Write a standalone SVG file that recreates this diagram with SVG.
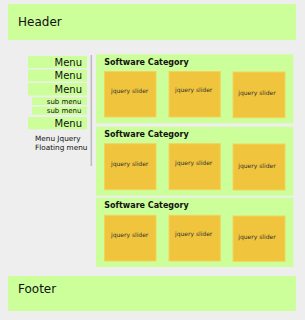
<svg xmlns="http://www.w3.org/2000/svg" width="305" height="320" viewBox="0 0 305 320">
<style>
.g{fill:#ccff99}
.s{fill:#f0c43c;stroke:#f5d35a;stroke-width:1}
.t{font-family:"DejaVu Sans",sans-serif;fill:#111}
.big{font-size:12px}
.menu{font-size:10px;text-anchor:end}
.sub{font-size:7px;text-anchor:end}
.cat{font-size:8px;font-weight:bold}
.js{font-size:6px;fill:#333}
.fm{font-size:7.3px}
</style>
<rect width="305" height="320" fill="#eeeeee"/>
<g id="header"><rect class="g" x="8" y="4" width="288" height="36"/><text class="t big" x="18" y="26">Header</text></g>
<g id="footer"><rect class="g" x="8" y="276" width="288" height="35"/><text class="t big" x="18" y="293">Footer</text></g>
<g id="menu1"><rect class="g" x="28" y="56" width="59" height="12"/><text class="t menu" x="82" y="65.5">Menu</text></g>
<g id="menu2"><rect class="g" x="28" y="69.5" width="59" height="12"/><text class="t menu" x="82" y="79">Menu</text></g>
<g id="menu3"><rect class="g" x="28" y="83" width="59" height="12.5"/><text class="t menu" x="82" y="92.7">Menu</text></g>
<g id="submenu1"><rect class="g" x="32" y="97.3" width="55" height="7.7"/><text class="t sub" x="81.5" y="103.5">sub menu</text></g>
<g id="submenu2"><rect class="g" x="32" y="106.7" width="55" height="8"/><text class="t sub" x="81.5" y="113">sub menu</text></g>
<g id="menu4"><rect class="g" x="28" y="117" width="59" height="12.3"/><text class="t menu" x="82" y="126.8">Menu</text></g>
<g id="floating"><text class="t fm" x="35" y="141">Menu Jquery</text><text class="t fm" x="35" y="150">Floating menu</text></g>
<g id="divider"><line x1="91.3" y1="55" x2="91.3" y2="166" stroke="#bbbbbb" stroke-width="1.5"/></g>
<g id="cat1">
<rect class="g" x="96" y="54.3" width="197.3" height="69"/>
<text class="t cat" x="104.3" y="65">Software Category</text>
<rect class="s" x="104.5" y="71.5" width="51.5" height="45.5"/><text class="t js" x="111" y="93">jquery slider</text>
<rect class="s" x="169" y="71.5" width="51.3" height="45.5"/><text class="t js" x="175" y="92">jquery slider</text>
<rect class="s" x="233" y="72" width="52" height="45.7"/><text class="t js" x="238.3" y="95">jquery slider</text>
</g>
<g id="cat2">
<rect class="g" x="96" y="126.7" width="197.3" height="69"/>
<text class="t cat" x="104.3" y="137">Software Category</text>
<rect class="s" x="104.5" y="143.7" width="51.5" height="46"/><text class="t js" x="111" y="165.5">jquery slider</text>
<rect class="s" x="169" y="143.7" width="51.3" height="46"/><text class="t js" x="175" y="164.5">jquery slider</text>
<rect class="s" x="233" y="144" width="52" height="46"/><text class="t js" x="238.3" y="167.5">jquery slider</text>
</g>
<g id="cat3">
<rect class="g" x="96" y="197.7" width="197.3" height="69.3"/>
<text class="t cat" x="104.3" y="208.3">Software Category</text>
<rect class="s" x="104.5" y="215.3" width="51.5" height="45.7"/><text class="t js" x="111" y="237">jquery slider</text>
<rect class="s" x="169" y="215.3" width="51.3" height="45.7"/><text class="t js" x="175" y="236">jquery slider</text>
<rect class="s" x="233" y="216" width="52" height="45.3"/><text class="t js" x="238.3" y="239">jquery slider</text>
</g>
<g id="connectors"></g>
</svg>
